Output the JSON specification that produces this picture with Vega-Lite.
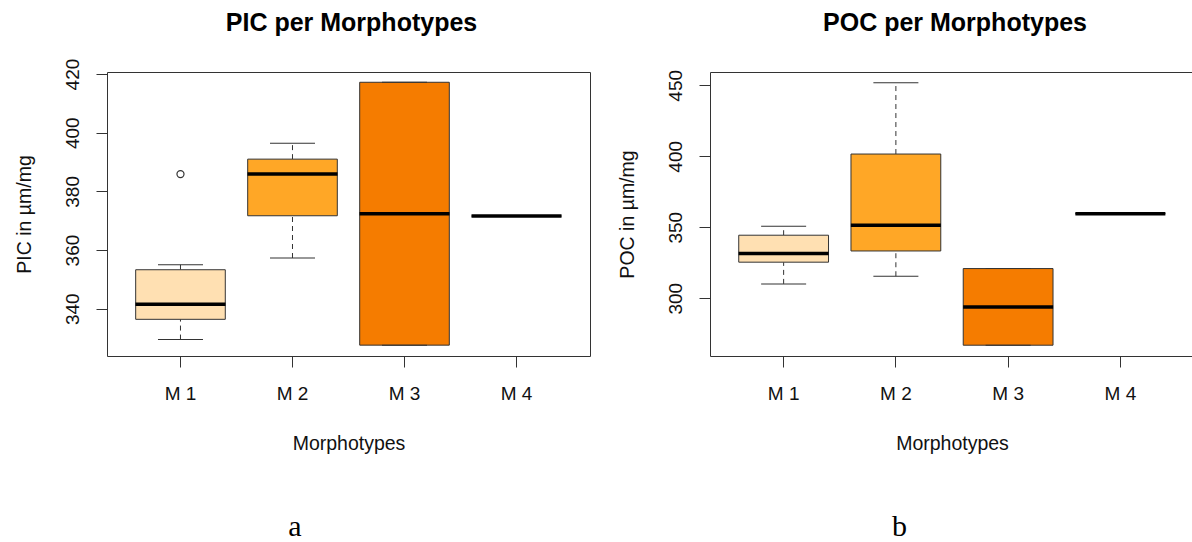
{
  "$schema": "https://vega.github.io/schema/vega-lite/v6.json",
  "background": "white",
  "padding": {"left": 13, "top": 10, "right": -3, "bottom": 0},
  "spacing": 25,
  "config": {
    "view": {"stroke": "#333333", "strokeWidth": 1},
    "font": "Liberation Sans",
    "axis": {
      "labelFont": "Liberation Sans",
      "labelFontSize": 19,
      "labelColor": "#111111",
      "titleFont": "Liberation Sans",
      "titleFontSize": 19.5,
      "titleFontWeight": "normal",
      "titleColor": "#111111",
      "tickColor": "#333333",
      "tickSize": 11,
      "domain": false,
      "grid": false,
      "labelFlush": false,
      "labelOverlap": false
    },
    "axisY": {
      "labelAngle": 270,
      "labelAlign": "center",
      "labelBaseline": "alphabetic",
      "labelPadding": 17.5,
      "titleAngle": 270,
      "titleBaseline": "bottom",
      "titleX": -73
    }
  },
  "datasets": {
    "pic": [
      {"m": "M 1", "lo": 329.5, "q1": 336.4, "med": 341.5, "q3": 353.3, "hi": 355.0},
      {"m": "M 2", "lo": 357.3, "q1": 371.7, "med": 385.9, "q3": 391.0, "hi": 396.4},
      {"m": "M 3", "lo": 327.6, "q1": 327.6, "med": 372.4, "q3": 417.2, "hi": 417.2},
      {"m": "M 4", "lo": 371.6, "q1": 371.6, "med": 371.6, "q3": 371.6, "hi": 371.6}
    ],
    "pic_out": [
      {"m": "M 1", "v": 385.9}
    ],
    "poc": [
      {"m": "M 1", "lo": 310.1, "q1": 325.4, "med": 331.5, "q3": 344.4, "hi": 350.7},
      {"m": "M 2", "lo": 315.5, "q1": 333.3, "med": 351.4, "q3": 401.6, "hi": 451.9},
      {"m": "M 3", "lo": 266.9, "q1": 266.9, "med": 293.9, "q3": 320.9, "hi": 320.9},
      {"m": "M 4", "lo": 359.6, "q1": 359.6, "med": 359.6, "q3": 359.6, "hi": 359.6}
    ]
  },
  "hconcat": [
    {
      "title": {"text": "a", "orient": "bottom", "frame": "bounds", "anchor": "middle", "baseline": "alphabetic", "offset": 83, "dx": -7, "font": "Liberation Serif", "fontSize": 30, "fontWeight": "normal", "color": "#000000"},
      "vconcat": [
        {
          "title": {"text": "PIC per Morphotypes", "frame": "group", "anchor": "middle", "baseline": "alphabetic", "offset": 2, "dx": 3, "font": "Liberation Sans", "fontSize": 25, "fontWeight": "bold", "color": "#000000"},
          "width": 483,
          "height": 284,
          "data": {"name": "pic"},
          "encoding": {
            "x": {
              "field": "m", "type": "nominal",
              "scale": {"domain": ["M 1", "M 2", "M 3", "M 4"], "paddingInner": 0.2, "paddingOuter": 0.256},
              "axis": {"title": "Morphotypes", "labelAngle": 0, "labelBaseline": "top", "labelPadding": 17, "titleY": 93, "titleBaseline": "alphabetic"}
            }
          },
          "layer": [
            {
              "mark": {"type": "rule", "color": "#333333", "strokeWidth": 1, "strokeDash": [5, 4]},
              "encoding": {
                "y": {"field": "lo", "type": "quantitative", "title": "PIC in µm/mg", "scale": {"domain": [323.9, 420.7], "nice": false, "zero": false}, "axis": {"values": [340, 360, 380, 400, 420]}},
                "y2": {"field": "q1"}
              }
            },
            {
              "mark": {"type": "rule", "color": "#333333", "strokeWidth": 1, "strokeDash": [5, 4]},
              "encoding": {
                "y": {"field": "q3", "type": "quantitative", "title": "PIC in µm/mg", "scale": {"domain": [323.9, 420.7], "nice": false, "zero": false}, "axis": {"values": [340, 360, 380, 400, 420]}},
                "y2": {"field": "hi"}
              }
            },
            {
              "mark": {"type": "bar", "stroke": "#333333", "strokeWidth": 1},
              "encoding": {
                "y": {"field": "q1", "type": "quantitative", "title": "PIC in µm/mg", "scale": {"domain": [323.9, 420.7], "nice": false, "zero": false}, "axis": {"values": [340, 360, 380, 400, 420]}},
                "y2": {"field": "q3"},
                "fill": {"field": "m", "type": "nominal", "scale": {"domain": ["M 1", "M 2", "M 3", "M 4"], "range": ["#FFE0B2", "#FFA726", "#F57C00", "#E65100"]}, "legend": null}
              }
            },
            {
              "mark": {"type": "tick", "color": "#333333", "size": 45, "thickness": 1, "opacity": 1},
              "encoding": {
                "y": {"field": "lo", "type": "quantitative", "title": "PIC in µm/mg", "scale": {"domain": [323.9, 420.7], "nice": false, "zero": false}, "axis": {"values": [340, 360, 380, 400, 420]}}
              }
            },
            {
              "mark": {"type": "tick", "color": "#333333", "size": 45, "thickness": 1, "opacity": 1},
              "encoding": {
                "y": {"field": "hi", "type": "quantitative", "title": "PIC in µm/mg", "scale": {"domain": [323.9, 420.7], "nice": false, "zero": false}, "axis": {"values": [340, 360, 380, 400, 420]}}
              }
            },
            {
              "mark": {"type": "tick", "color": "#000000", "size": 90, "thickness": 3.5, "opacity": 1},
              "encoding": {
                "y": {"field": "med", "type": "quantitative", "title": "PIC in µm/mg", "scale": {"domain": [323.9, 420.7], "nice": false, "zero": false}, "axis": {"values": [340, 360, 380, 400, 420]}}
              }
            },
            {
              "data": {"name": "pic_out"},
              "mark": {"type": "point", "shape": "circle", "filled": false, "stroke": "#333333", "strokeWidth": 1.2, "size": 50, "opacity": 1},
              "encoding": {
                "y": {"field": "v", "type": "quantitative", "title": "PIC in µm/mg", "scale": {"domain": [323.9, 420.7], "nice": false, "zero": false}, "axis": {"values": [340, 360, 380, 400, 420]}}
              }
            }
          ]
        }
      ]
    },
    {
      "title": {"text": "b", "orient": "bottom", "frame": "bounds", "anchor": "middle", "baseline": "alphabetic", "offset": 83, "dx": -6, "font": "Liberation Serif", "fontSize": 30, "fontWeight": "normal", "color": "#000000"},
      "vconcat": [
        {
          "title": {"text": "POC per Morphotypes", "frame": "group", "anchor": "middle", "baseline": "alphabetic", "offset": 13, "dx": 3, "font": "Liberation Sans", "fontSize": 25, "fontWeight": "bold", "color": "#000000"},
          "width": 484,
          "height": 284,
          "data": {"name": "poc"},
          "encoding": {
            "x": {
              "field": "m", "type": "nominal",
              "scale": {"domain": ["M 1", "M 2", "M 3", "M 4"], "paddingInner": 0.2, "paddingOuter": 0.256},
              "axis": {"title": "Morphotypes", "labelAngle": 0, "labelBaseline": "top", "labelPadding": 17, "titleY": 93, "titleBaseline": "alphabetic"}
            }
          },
          "layer": [
            {
              "mark": {"type": "rule", "color": "#333333", "strokeWidth": 1, "strokeDash": [5, 4]},
              "encoding": {
                "y": {"field": "lo", "type": "quantitative", "title": "POC in µm/mg", "scale": {"domain": [259.3, 459.4], "nice": false, "zero": false}, "axis": {"values": [300, 350, 400, 450]}},
                "y2": {"field": "q1"}
              }
            },
            {
              "mark": {"type": "rule", "color": "#333333", "strokeWidth": 1, "strokeDash": [5, 4]},
              "encoding": {
                "y": {"field": "q3", "type": "quantitative", "title": "POC in µm/mg", "scale": {"domain": [259.3, 459.4], "nice": false, "zero": false}, "axis": {"values": [300, 350, 400, 450]}},
                "y2": {"field": "hi"}
              }
            },
            {
              "mark": {"type": "bar", "stroke": "#333333", "strokeWidth": 1},
              "encoding": {
                "y": {"field": "q1", "type": "quantitative", "title": "POC in µm/mg", "scale": {"domain": [259.3, 459.4], "nice": false, "zero": false}, "axis": {"values": [300, 350, 400, 450]}},
                "y2": {"field": "q3"},
                "fill": {"field": "m", "type": "nominal", "scale": {"domain": ["M 1", "M 2", "M 3", "M 4"], "range": ["#FFE0B2", "#FFA726", "#F57C00", "#E65100"]}, "legend": null}
              }
            },
            {
              "mark": {"type": "tick", "color": "#333333", "size": 45, "thickness": 1, "opacity": 1},
              "encoding": {
                "y": {"field": "lo", "type": "quantitative", "title": "POC in µm/mg", "scale": {"domain": [259.3, 459.4], "nice": false, "zero": false}, "axis": {"values": [300, 350, 400, 450]}}
              }
            },
            {
              "mark": {"type": "tick", "color": "#333333", "size": 45, "thickness": 1, "opacity": 1},
              "encoding": {
                "y": {"field": "hi", "type": "quantitative", "title": "POC in µm/mg", "scale": {"domain": [259.3, 459.4], "nice": false, "zero": false}, "axis": {"values": [300, 350, 400, 450]}}
              }
            },
            {
              "mark": {"type": "tick", "color": "#000000", "size": 90, "thickness": 3.5, "opacity": 1},
              "encoding": {
                "y": {"field": "med", "type": "quantitative", "title": "POC in µm/mg", "scale": {"domain": [259.3, 459.4], "nice": false, "zero": false}, "axis": {"values": [300, 350, 400, 450]}}
              }
            }
          ]
        }
      ]
    }
  ]
}
